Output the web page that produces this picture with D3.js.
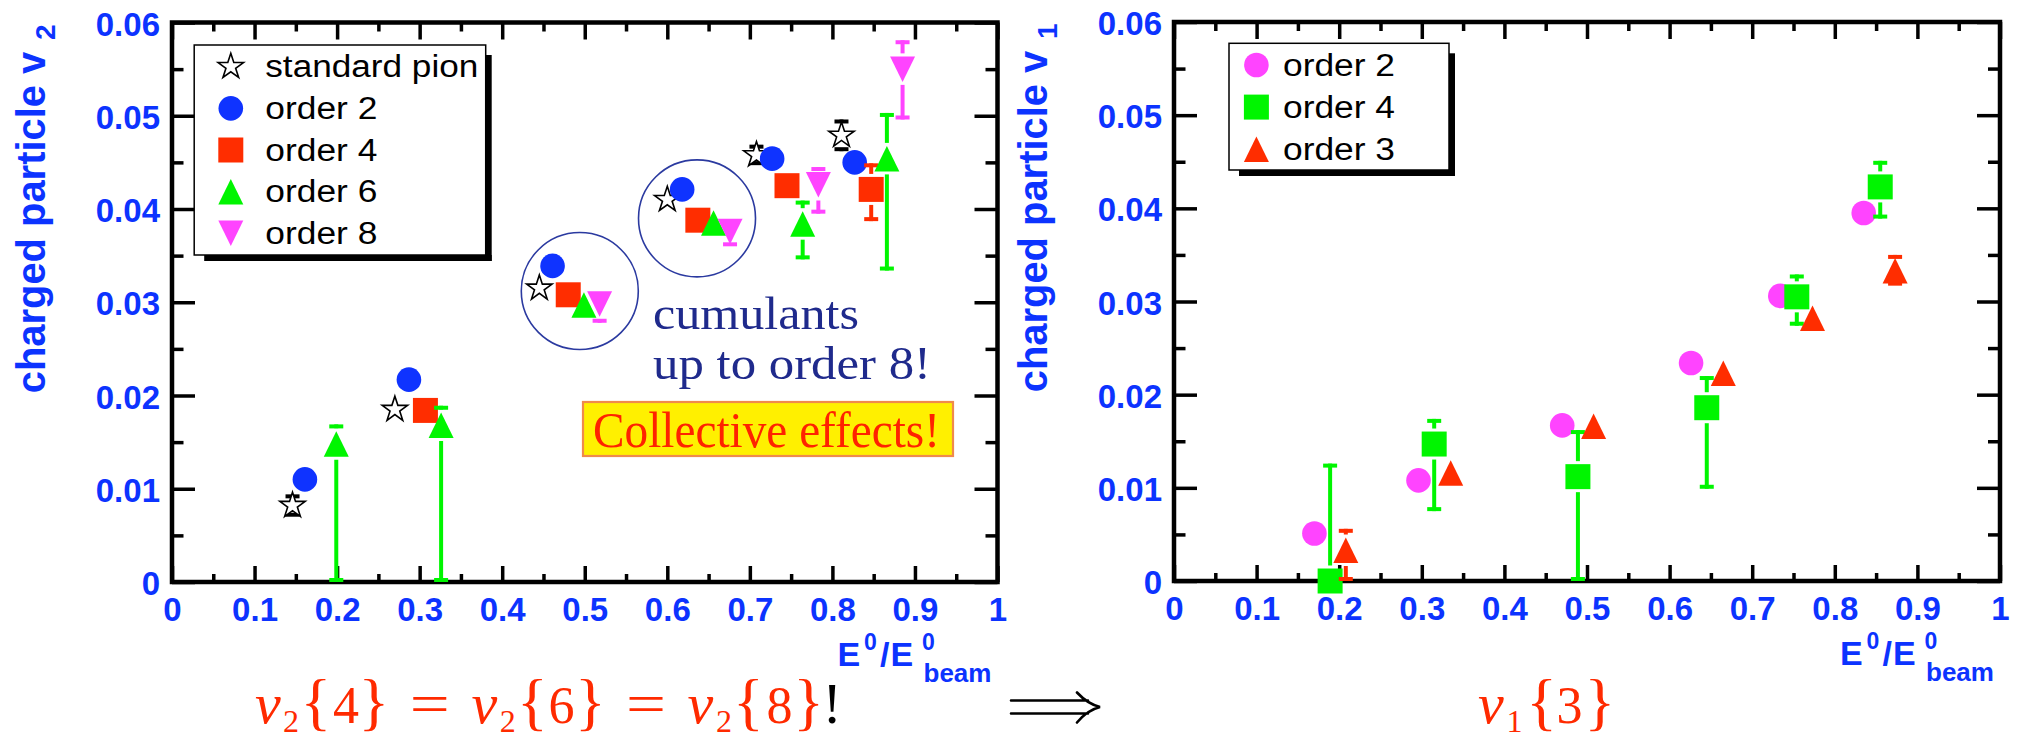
<!DOCTYPE html>
<html>
<head>
<meta charset="utf-8">
<script src="https://cdn.jsdelivr.net/npm/d3@7/dist/d3.min.js"></script>
<style>
  html, body { margin: 0; padding: 0; background: #fff; }
  svg { display: block; }
</style>
</head>
<body>
<svg id="chart" width="2019" height="739"></svg>
<script>
// ---------- tick labels ----------
const xTickLabels = ["0", "0.1", "0.2", "0.3", "0.4", "0.5", "0.6", "0.7", "0.8", "0.9", "1"];
const yTickLabels = ["0", "0.01", "0.02", "0.03", "0.04", "0.05", "0.06"];

// ---------- left panel: elliptic flow v2 vs E0/Ebeam ----------
const v2PionX   = [0.146, 0.270, 0.445, 0.600, 0.708, 0.811];
const v2PionY   = [0.0082, 0.0185, 0.0315, 0.0410, 0.0458, 0.0479];
const v2PionErr = [0.0012, 0, 0, 0, 0.0011, 0.0017];

const v2Order2X = [0.161, 0.287, 0.461, 0.618, 0.727, 0.827];
const v2Order2Y = [0.0110, 0.0217, 0.0339, 0.0421, 0.0454, 0.0450];

const v2Order4X     = [0.307, 0.480, 0.637, 0.745, 0.847];
const v2Order4Y     = [0.0184, 0.0308, 0.0388, 0.0425, 0.0421];
const v2Order4ErrHi = [0, 0, 0, 0, 0.0028];
const v2Order4ErrLo = [0, 0, 0, 0, 0.0034];

const v2Order6X     = [0.199, 0.326, 0.499, 0.656, 0.764, 0.866];
const v2Order6Y     = [0.0148, 0.0168, 0.0297, 0.0385, 0.0384, 0.0454];
const v2Order6ErrHi = [0.0021, 0.0021, 0, 0, 0.0025, 0.0049];
const v2Order6ErrLo = [0.0148, 0.0168, 0, 0, 0.0038, 0.0120];

const v2Order8X     = [0.518, 0.676, 0.783, 0.885];
const v2Order8Y     = [0.0298, 0.0376, 0.0426, 0.0550];
const v2Order8ErrHi = [0.0010, 0.0010, 0.0019, 0.0031];
const v2Order8ErrLo = [0.0020, 0.0016, 0.0031, 0.0054];

// groups highlighted with rings (centre in data units)
const ringX = [0.494, 0.636];
const ringY = [0.0312, 0.0390];

// ---------- right panel: directed flow v1 vs E0/Ebeam ----------
const v1Order2X = [0.170, 0.296, 0.470, 0.626, 0.734, 0.835];
const v1Order2Y = [0.0051, 0.0108, 0.0167, 0.0234, 0.0306, 0.0395];

const v1Order4X     = [0.189, 0.315, 0.489, 0.645, 0.754, 0.855];
const v1Order4Y     = [0.0000, 0.0147, 0.0112, 0.0186, 0.0305, 0.0423];
const v1Order4ErrHi = [0.0126, 0.0027, 0.0050, 0.0034, 0.0024, 0.0028];
const v1Order4ErrLo = [0.0126, 0.0072, 0.0112, 0.0087, 0.0031, 0.0034];

const v1Order3X     = [0.208, 0.335, 0.508, 0.665, 0.773, 0.873];
const v1Order3Y     = [0.0033, 0.0116, 0.0166, 0.0223, 0.0282, 0.0333];
const v1Order3ErrHi = [0.0023, 0, 0, 0, 0, 0.0017];
const v1Order3ErrLo = [0.0033, 0, 0, 0, 0, 0.0016];

// ---------- styling ----------
const AXIS_BLUE = "#0c33ff";
const BLUE = "#0f33ff", RED = "#ff2d00", GREEN = "#00f500", MAGENTA = "#ff44ff";
const NAVY = "#1f2a8c";
const SANS = "'Liberation Sans', Arial, Helvetica, sans-serif";
const SERIF = "'Liberation Serif', 'Times New Roman', serif";

const svg = d3.select("#chart");

// marker outlines
const shapes = {
  circle: d3.symbol(d3.symbolCircle, Math.PI * 12.3 * 12.3)(),
  square: d3.symbol(d3.symbolSquare, 25 * 25)(),
  triUp: "M0,-12.75L12.5,12.75L-12.5,12.75Z",
  triDown: "M0,12.75L12.5,-12.75L-12.5,-12.75Z",
  star: d3.symbol(d3.symbolStar, 200)()
};

function makePanel(o) {
  const g = svg.append("g").attr("transform", `translate(${o.left},${o.top})`);
  const x = d3.scaleLinear().domain([0, 1]).range([0, o.width]);
  const y = d3.scaleLinear().domain([0, 0.06]).range([o.height, 0]);

  const xMajor = xTickLabels.map(Number);
  const xMinor = d3.range(10).map(i => 0.05 + 0.1 * i);
  const yMajor = yTickLabels.map(Number);
  const yMinor = d3.range(6).map(i => 0.005 + 0.01 * i);

  function style(sel) {
    sel.select(".domain").remove();
    sel.selectAll(".tick line").attr("stroke", "#000").attr("stroke-width", 3.5);
    sel.selectAll(".tick text")
      .attr("fill", AXIS_BLUE)
      .style("font-family", SANS).style("font-weight", "bold").style("font-size", "33px");
  }

  // bottom axis with labels
  g.append("g").attr("transform", `translate(0,${o.height})`)
    .call(d3.axisBottom(x).tickValues(xMajor).tickFormat((d, i) => xTickLabels[i])
      .tickSize(-16).tickSizeOuter(0).tickPadding(16)).call(style);
  g.append("g").attr("transform", `translate(0,${o.height})`)
    .call(d3.axisBottom(x).tickValues(xMinor).tickFormat("").tickSize(-8).tickSizeOuter(0)).call(style);
  // top axis
  g.append("g").call(d3.axisTop(x).tickValues(xMajor).tickFormat("").tickSize(-17).tickSizeOuter(0)).call(style);
  g.append("g").call(d3.axisTop(x).tickValues(xMinor).tickFormat("").tickSize(-9).tickSizeOuter(0)).call(style);
  // left axis with labels
  g.append("g")
    .call(d3.axisLeft(y).tickValues(yMajor).tickFormat((d, i) => yTickLabels[i])
      .tickSize(-23).tickSizeOuter(0).tickPadding(12)).call(style)
    .selectAll(".tick text").attr("dy", "0.38em");
  g.append("g").call(d3.axisLeft(y).tickValues(yMinor).tickFormat("").tickSize(-11.5).tickSizeOuter(0)).call(style);
  // right axis
  g.append("g").attr("transform", `translate(${o.width},0)`)
    .call(d3.axisRight(y).tickValues(yMajor).tickFormat("").tickSize(-23).tickSizeOuter(0)).call(style);
  g.append("g").attr("transform", `translate(${o.width},0)`)
    .call(d3.axisRight(y).tickValues(yMinor).tickFormat("").tickSize(-12).tickSizeOuter(0)).call(style);

  // frame
  g.append("rect").attr("x", 0).attr("y", 0).attr("width", o.width).attr("height", o.height)
    .attr("fill", "none").attr("stroke", "#000").attr("stroke-width", 4.5);

  // y-axis title (rotated) with subscript
  g.append("text")
    .attr("transform", `translate(-127,${o.height - 188.7}) rotate(-90)`)
    .attr("textLength", 341.6).attr("lengthAdjust", "spacingAndGlyphs")
    .attr("fill", AXIS_BLUE).style("font-family", SANS).style("font-weight", "bold").style("font-size", "41px")
    .text("charged particle v");
  g.append("text")
    .attr("transform", `translate(-117,${o.height - 542}) rotate(-90)`)
    .attr("fill", AXIS_BLUE).style("font-family", SANS).style("font-weight", "bold").style("font-size", "28px")
    .text(o.sub);

  // x-axis title E0/E0beam, one text element with super- and subscript pieces
  const R = o.width, B = o.height;
  const xt = [
    { t: "E",    dx: -160,   dy: 84,   fs: 34 },
    { t: "0",    dx: -133.5, dy: 68,   fs: 23 },
    { t: "/",    dx: -117.5, dy: 84,   fs: 34 },
    { t: "E",    dx: -107,   dy: 84,   fs: 34 },
    { t: "0",    dx: -75.5,  dy: 68,   fs: 23 },
    { t: "beam", dx: -74,    dy: 100,  fs: 26 }
  ];
  g.append("text")
    .attr("fill", AXIS_BLUE).style("font-family", SANS).style("font-weight", "bold")
    .selectAll("tspan").data(xt).join("tspan")
    .attr("x", d => R + d.dx).attr("y", d => B + d.dy)
    .style("font-size", d => d.fs + "px").text(d => d.t);

  return { g, x, y };
}

// error bars: stem stops short of the marker, caps at the ends
function drawErrors(p, xs, ys, hi, lo, color, half) {
  const eg = p.g.append("g").attr("stroke", color).attr("stroke-width", 4);
  xs.forEach((xv, i) => {
    const cx = p.x(xv), cy = p.y(ys[i]);
    const gap = half + 3;
    if (hi[i] > 0) {
      const top = p.y(Math.min(ys[i] + hi[i], 0.06));
      if (cy - top > gap) eg.append("line").attr("x1", cx).attr("x2", cx).attr("y1", cy - gap).attr("y2", top);
      eg.append("line").attr("x1", cx - 7).attr("x2", cx + 7).attr("y1", top + 2).attr("y2", top + 2);
    }
    if (lo[i] > 0) {
      const lowVal = ys[i] - lo[i];
      const bot = p.y(Math.max(lowVal, 0));
      if (bot - cy > gap) eg.append("line").attr("x1", cx).attr("x2", cx).attr("y1", cy + gap).attr("y2", bot);
      if (lowVal >= -1e-9) eg.append("line").attr("x1", cx - 7).attr("x2", cx + 7).attr("y1", bot - 2).attr("y2", bot - 2);
    }
  });
}

function drawMarkers(p, xs, ys, shape, fill, stroke) {
  p.g.append("g").selectAll("path").data(xs.map((xv, i) => [xv, ys[i]])).join("path")
    .attr("transform", d => `translate(${p.x(d[0])},${p.y(d[1])})`)
    .attr("d", shapes[shape])
    .attr("fill", fill)
    .attr("stroke", stroke || "none")
    .attr("stroke-width", stroke ? 1.6 : 0);
}

// ---------- left panel ----------
const pL = makePanel({ left: 172, top: 22.5, width: 825.5, height: 559.5, sub: "2" });

// highlight rings
pL.g.append("g").selectAll("circle").data(ringX.map((v, i) => [v, ringY[i]])).join("circle")
  .attr("cx", d => pL.x(d[0])).attr("cy", d => pL.y(d[1])).attr("r", 58.5)
  .attr("fill", "none").attr("stroke", "#2b3aa0").attr("stroke-width", 1.6);

drawErrors(pL, v2PionX, v2PionY, v2PionErr, v2PionErr, "#000", 12);
drawMarkers(pL, v2PionX, v2PionY, "star", "#fff", "#000");
drawMarkers(pL, v2Order2X, v2Order2Y, "circle", BLUE);
drawErrors(pL, v2Order4X, v2Order4Y, v2Order4ErrHi, v2Order4ErrLo, RED, 12.5);
drawMarkers(pL, v2Order4X, v2Order4Y, "square", RED);
drawErrors(pL, v2Order6X, v2Order6Y, v2Order6ErrHi, v2Order6ErrLo, GREEN, 12.75);
drawMarkers(pL, v2Order6X, v2Order6Y, "triUp", GREEN);
drawErrors(pL, v2Order8X, v2Order8Y, v2Order8ErrHi, v2Order8ErrLo, MAGENTA, 12.75);
drawMarkers(pL, v2Order8X, v2Order8Y, "triDown", MAGENTA);

// ---------- right panel ----------
const pR = makePanel({ left: 1174, top: 22, width: 826, height: 559, sub: "1" });

drawMarkers(pR, v1Order2X, v1Order2Y, "circle", MAGENTA);
drawErrors(pR, v1Order4X, v1Order4Y, v1Order4ErrHi, v1Order4ErrLo, GREEN, 12.5);
drawMarkers(pR, v1Order4X, v1Order4Y, "square", GREEN);
drawErrors(pR, v1Order3X, v1Order3Y, v1Order3ErrHi, v1Order3ErrLo, RED, 12.75);
drawMarkers(pR, v1Order3X, v1Order3Y, "triUp", RED);

// ---------- legends ----------
function drawLegend(box, entries, markerX, textX, firstY, stepY, lens) {
  const lg = svg.append("g");
  lg.append("rect").attr("x", box.x + box.w).attr("y", box.y + 10).attr("width", 6).attr("height", box.h - 4).attr("fill", "#000");
  lg.append("rect").attr("x", box.x + 10).attr("y", box.y + box.h).attr("width", box.w - 4).attr("height", 6).attr("fill", "#000");
  lg.append("rect").attr("x", box.x).attr("y", box.y).attr("width", box.w).attr("height", box.h)
    .attr("fill", "#fff").attr("stroke", "#000").attr("stroke-width", 1.5);
  entries.forEach((e, i) => {
    const cy = firstY + i * stepY;
    lg.append("path").attr("transform", `translate(${markerX},${cy})`).attr("d", shapes[e.shape])
      .attr("fill", e.fill).attr("stroke", e.stroke || "none").attr("stroke-width", e.stroke ? 1.6 : 0);
    lg.append("text").attr("x", textX).attr("y", cy + 10.5)
      .attr("textLength", lens[i]).attr("lengthAdjust", "spacingAndGlyphs")
      .attr("fill", "#000").style("font-family", SANS).style("font-size", "31px").text(e.label);
  });
}

drawLegend({ x: 194.2, y: 45, w: 291.5, h: 210 }, [
  { shape: "star", fill: "#fff", stroke: "#000", label: "standard pion" },
  { shape: "circle", fill: BLUE, label: "order 2" },
  { shape: "square", fill: RED, label: "order 4" },
  { shape: "triUp", fill: GREEN, label: "order 6" },
  { shape: "triDown", fill: MAGENTA, label: "order 8" }
], 230.8, 265.3, 66.7, 41.65, [213, 112, 112, 112, 112]);

drawLegend({ x: 1229, y: 43.3, w: 220, h: 126.7 }, [
  { shape: "circle", fill: MAGENTA, label: "order 2" },
  { shape: "square", fill: GREEN, label: "order 4" },
  { shape: "triUp", fill: RED, label: "order 3" }
], 1256.4, 1283, 65, 42.1, [112, 112, 112]);

// ---------- annotations in the v2 panel ----------
svg.append("text").attr("x", 653).attr("y", 329)
  .attr("textLength", 206).attr("lengthAdjust", "spacingAndGlyphs")
  .attr("fill", NAVY).style("font-family", SERIF).style("font-size", "46px").text("cumulants");
svg.append("text").attr("x", 653).attr("y", 378.5)
  .attr("textLength", 278).attr("lengthAdjust", "spacingAndGlyphs")
  .attr("fill", NAVY).style("font-family", SERIF).style("font-size", "46px").text("up to order 8!");

svg.append("rect").attr("x", 583).attr("y", 402).attr("width", 370).attr("height", 54)
  .attr("fill", "#fff000").attr("stroke", "#f08a4b").attr("stroke-width", 2.2);
svg.append("text").attr("x", 593).attr("y", 446.7)
  .attr("textLength", 347).attr("lengthAdjust", "spacingAndGlyphs")
  .attr("fill", "#ff2200").style("font-family", SERIF).style("font-size", "50px").text("Collective effects!");

// ---------- formulas beneath the panels ----------
const MATH_RED = "#ff2a00";
const formulaPieces = [
  { t: "v", cx: 267.8, it: true }, { t: "2", cx: 291, sub: true }, { t: "{", cx: 315.8, br: true },
  { t: "4", cx: 346, dg: true }, { t: "}", cx: 373.8, br: true }, { t: "=", cx: 429.7, eq: true },
  { t: "v", cx: 484.4, it: true }, { t: "2", cx: 507.8, sub: true }, { t: "{", cx: 532.3, br: true },
  { t: "6", cx: 561.4, dg: true }, { t: "}", cx: 590.4, br: true }, { t: "=", cx: 646, eq: true },
  { t: "v", cx: 700.4, it: true }, { t: "2", cx: 723.9, sub: true }, { t: "{", cx: 748.4, br: true },
  { t: "8", cx: 779.5, dg: true }, { t: "}", cx: 808.7, br: true }, { t: "!", cx: 832.2, bang: true },
  { t: "v", cx: 1490.8, it: true }, { t: "1", cx: 1514.4, sub: true }, { t: "{", cx: 1541.6, br: true },
  { t: "3", cx: 1569.5, dg: true }, { t: "}", cx: 1599.8, br: true }
];
const fg = svg.append("g").style("font-family", SERIF).attr("text-anchor", "middle");
formulaPieces.forEach(p => {
  const t = fg.append("text").attr("x", p.cx).attr("y", p.sub ? 731.5 : 723)
    .attr("fill", p.bang ? "#000" : MATH_RED).text(p.t);
  if (p.it) t.style("font-style", "italic").style("font-size", "58px");
  else if (p.sub) t.style("font-size", "32px");
  else if (p.br) t.style("font-size", "64px");
  else if (p.dg) t.style("font-size", "52px");
  else if (p.eq) t.style("font-size", "56px").attr("textLength", 40).attr("lengthAdjust", "spacingAndGlyphs");
  else t.style("font-size", "58px");
});

// implication arrow between the two formulas
svg.append("path")
  .attr("d", "M1011,700.5H1088M1011,713.5H1088M1077,692.5C1084,700 1092,705 1100,707C1092,709 1084,714 1077,722.5")
  .attr("fill", "none").attr("stroke", "#000").attr("stroke-width", 2.6).attr("stroke-linecap", "round");
</script>
</body>
</html>
